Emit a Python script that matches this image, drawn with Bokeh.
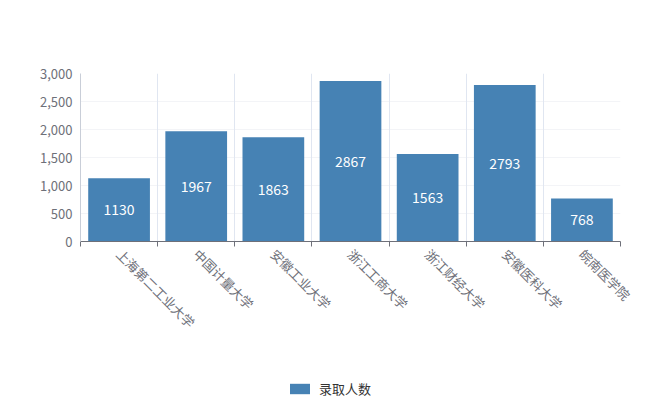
from bokeh.plotting import figure
from bokeh.layouts import column
from bokeh.models import (ColumnDataSource, LabelSet, FixedTicker, NumeralTickFormatter, Legend,
                          LegendItem, LinearAxis, Grid, Range1d)
from bokeh.core.properties import value
from bokeh.embed import file_html
from bokeh.resources import INLINE

schools = ["上海第二工业大学", "中国计量大学", "安徽工业大学", "浙江工商大学", "浙江财经大学", "安徽医科大学", "皖南医学院"]
admitted = [1130, 1967, 1863, 2867, 1563, 2793, 768]
series_name = "录取人数"
y_ticks = [0, 500, 1000, 1500, 2000, 2500, 3000]

src = ColumnDataSource(dict(x=schools, y=admitted, half=[v / 2 for v in admitted], lab=[str(v) for v in admitted]))

FONT = "Noto Sans CJK SC"
GRAY = "#6E7079"
BAR = "#4682B4"

p = figure(x_range=schools, y_range=(0, 3000), width=654, height=370, x_axis_type=None,
           output_backend="svg", toolbar_location=None,
           min_border_left=80, min_border_right=34, min_border_top=73, min_border_bottom=129)
p.outline_line_color = None

r = p.vbar(x="x", top="y", width=0.8, source=src, fill_color=BAR, line_color=None)

labels = LabelSet(x="x", y="half", text="lab", source=src, text_color="white",
                  text_align="center", text_baseline="middle", text_font_size="14px",
                  text_font=value(FONT))
p.add_layout(labels)

# category axis with ticks on category boundaries
centers = [i + 0.5 for i in range(len(schools))]
bounds = list(range(len(schools) + 1))
xaxis = LinearAxis(ticker=FixedTicker(ticks=centers, minor_ticks=bounds),
                   major_label_overrides={c: s for c, s in zip(centers, schools)})
xaxis.axis_line_color = GRAY
xaxis.major_tick_line_color = None
xaxis.major_tick_out = 0
xaxis.major_tick_in = 0
xaxis.minor_tick_line_color = GRAY
xaxis.minor_tick_out = 5
xaxis.minor_tick_in = 0
xaxis.major_label_orientation = -0.785
xaxis.major_label_text_color = GRAY
xaxis.major_label_text_font_size = "13px"
xaxis.major_label_text_font = FONT
xaxis.major_label_standoff = 5
p.add_layout(xaxis, "below")

p.add_layout(Grid(dimension=0, ticker=FixedTicker(ticks=bounds), grid_line_color="#E0E6F1"))
p.ygrid.ticker = FixedTicker(ticks=y_ticks)
p.ygrid.grid_line_color = "#F3F4F7"

p.yaxis.ticker = FixedTicker(ticks=y_ticks)
p.yaxis.formatter = NumeralTickFormatter(format="0,0")
p.yaxis.axis_line_color = "#C9CED8"
p.yaxis.major_tick_line_color = None
p.yaxis.major_tick_out = 0
p.yaxis.major_tick_in = 0
p.yaxis.minor_tick_line_color = None
p.yaxis.major_label_text_color = GRAY
p.yaxis.major_label_text_font_size = "13px"
p.yaxis.major_label_text_font = FONT
p.yaxis.major_label_standoff = 8

# legend strip below the chart (same series as empty bars out of view, only its swatch shows)
pl = figure(width=654, height=30, x_range=schools, y_range=Range1d(-2, -1),
            output_backend="svg", toolbar_location=None, x_axis_type=None, y_axis_type=None,
            min_border=0)
pl.outline_line_color = None
pl.xgrid.visible = False
pl.ygrid.visible = False
lr = pl.vbar(x="x", top="y", bottom="y", width=0, source=src, fill_color=BAR, line_color=None)
legend = Legend(items=[LegendItem(label=series_name, renderers=[lr])], location=(207, 2),
                orientation="horizontal", border_line_alpha=0, background_fill_alpha=0,
                padding=0, margin=0, glyph_width=25, glyph_height=13, label_text_font=FONT,
                label_text_font_size="13px", label_text_color="#333333", label_standoff=7)
pl.add_layout(legend)

open("out.html", "w").write(file_html(column(p, pl, spacing=0), INLINE))
